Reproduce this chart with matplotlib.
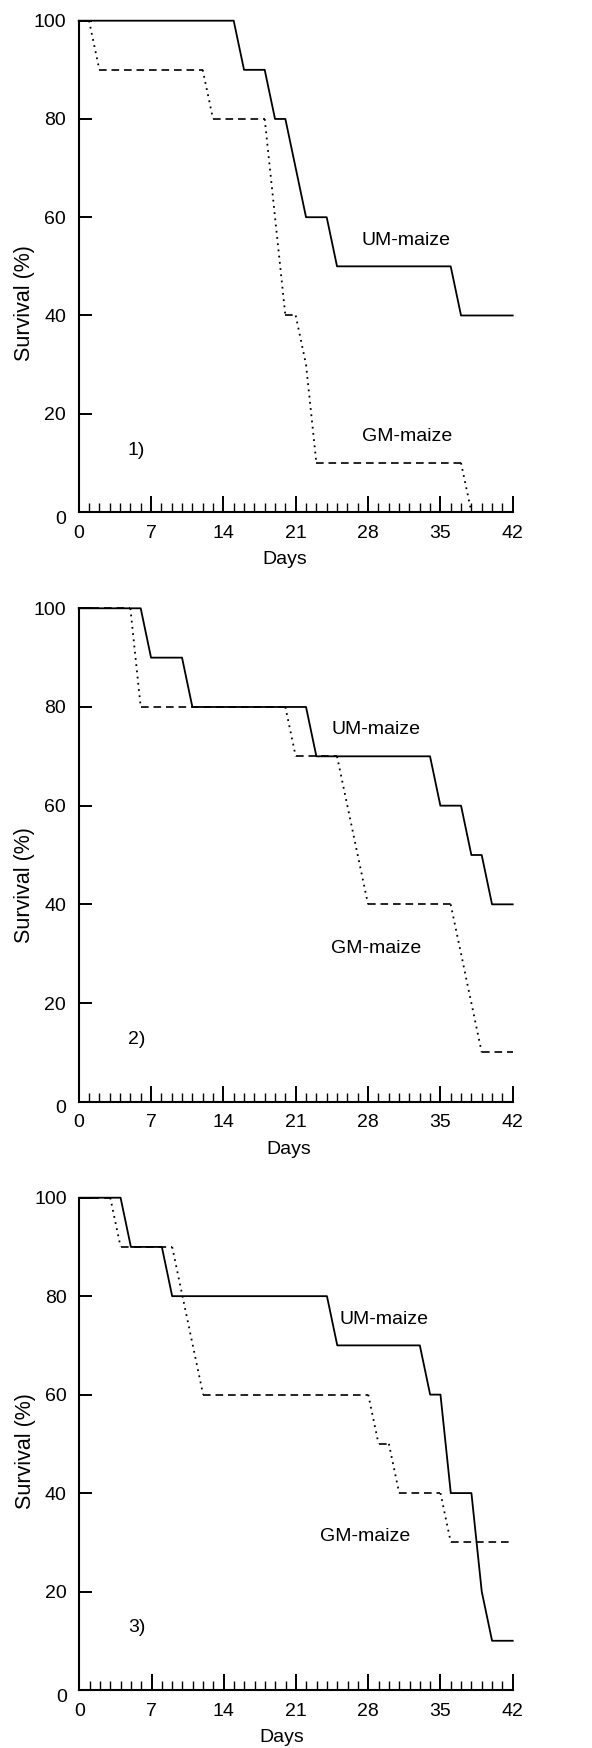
import matplotlib
matplotlib.use("Agg")
import matplotlib.pyplot as plt
import matplotlib.transforms as mtransforms
from matplotlib.ticker import MultipleLocator

plt.rcParams['font.family'] = ['Liberation Sans', 'DejaVu Sans']
plt.rcParams['font.size'] = 14
plt.rcParams['lines.scale_dashes'] = False

# survival curves, (day, percent)
um1_days = [0, 15, 16, 18, 19, 20, 22, 24, 25, 36, 37, 42]
um1_surv = [100, 100, 90, 90, 80, 80, 60, 60, 50, 50, 40, 40]
gm1_days = [0, 1, 2, 12, 13, 18, 20, 21, 22, 23, 37, 38]
gm1_surv = [100, 100, 90, 90, 80, 80, 40, 40, 30, 10, 10, 0]

um2_days = [0, 6, 7, 10, 11, 22, 23, 34, 35, 37, 38, 39, 40, 42]
um2_surv = [100, 100, 90, 90, 80, 80, 70, 70, 60, 60, 50, 50, 40, 40]
gm2_days = [0, 5, 6, 20, 21, 25, 28, 36, 39, 42]
gm2_surv = [100, 100, 80, 80, 70, 70, 40, 40, 10, 10]

um3_days = [0, 4, 5, 8, 9, 24, 25, 33, 34, 35, 36, 38, 39, 40, 42]
um3_surv = [100, 100, 90, 90, 80, 80, 70, 70, 60, 60, 40, 40, 20, 10, 10]
gm3_days = [0, 3, 4, 9, 12, 28, 29, 30, 31, 35, 36, 42]
gm3_surv = [100, 100, 90, 90, 60, 60, 50, 50, 40, 40, 30, 30]

panel_names = ['1)', '2)', '3)']
x_ticks = [0, 7, 14, 21, 28, 35, 42]
y_ticks = [0, 20, 40, 60, 80, 100]

# label positions in data coords (day, percent)
um_label_pos = [(31.7, 55.3), (28.8, 75.4), (29.5, 75.3)]
gm_label_pos = [(31.8, 15.3), (28.8, 31.1), (27.7, 31.1)]
panel_label_pos = [(5.6, 12.6), (5.6, 12.7), (5.6, 12.7)]

series = [
    (um1_days, um1_surv, gm1_days, gm1_surv),
    (um2_days, um2_surv, gm2_days, gm2_surv),
    (um3_days, um3_surv, gm3_days, gm3_surv),
]

W, H = 592, 1748
fig = plt.figure(figsize=(W / 100, H / 100), dpi=100)

# axes boxes in pixels: left, top(y=100), bottom(y=0)
boxes = [(78.7, 20.7, 512.0), (78.7, 608.3, 1101.7), (79.3, 1197.7, 1690.0)]
right_px = 512.7
days_x = [0.475, 0.485, 0.468]
surv_y = [0.426, 0.44, 0.486]


def draw_gm(ax, days, surv):
    # flat parts dashed, sloped parts dotted (as in the print)
    for i in range(len(days) - 1):
        xs = days[i:i + 2]
        ys = surv[i:i + 2]
        if ys[0] == ys[1]:
            ax.plot(xs, ys, color='black', lw=1.2, linestyle=(0, (5.5, 3.5)), clip_on=False)
        else:
            ax.plot(xs, ys, color='black', lw=1.3, linestyle=(0, (1.3, 3.2)), clip_on=False)


for k, (left, top, bottom) in enumerate(boxes):
    ax = fig.add_axes([left / W, 1 - bottom / H, (right_px - left) / W, (bottom - top) / H])
    ud, us, gd, gs = series[k]
    ax.plot(ud, us, color='black', lw=1.3, clip_on=False)
    draw_gm(ax, gd, gs)

    ax.set_xlim(0, 42)
    ax.set_ylim(0, 100)
    ax.spines['top'].set_visible(False)
    ax.spines['right'].set_visible(False)
    ax.spines['left'].set_linewidth(1.5)
    ax.spines['bottom'].set_linewidth(1.5)

    ax.set_xticks(x_ticks)
    ax.set_yticks(y_ticks)
    ax.xaxis.set_minor_locator(MultipleLocator(1))
    ax.tick_params(axis='x', which='major', direction='in', length=11.5, width=1.4, pad=9)
    ax.tick_params(axis='x', which='minor', direction='in', length=6.5, width=1.0)
    ax.tick_params(axis='y', which='major', direction='in', length=9.5, width=1.4, pad=9)

    # the "0" on the y axis sits a little low in the original
    zero = ax.yaxis.get_major_ticks()[0].label1
    zero.set_transform(zero.get_transform() + mtransforms.ScaledTranslation(0, -5 / 100, fig.dpi_scale_trans))

    ax.set_xlabel('Days')
    ax.xaxis.set_label_coords(days_x[k], -0.08)
    ax.set_ylabel('Survival (%)', fontsize=15.5)
    ax.yaxis.set_label_coords(-0.1, surv_y[k])

    ax.text(*um_label_pos[k], 'UM-maize', ha='center', va='center')
    ax.text(*gm_label_pos[k], 'GM-maize', ha='center', va='center')
    ax.text(*panel_label_pos[k], panel_names[k], ha='center', va='center')

fig.savefig('out.png', dpi=100)
